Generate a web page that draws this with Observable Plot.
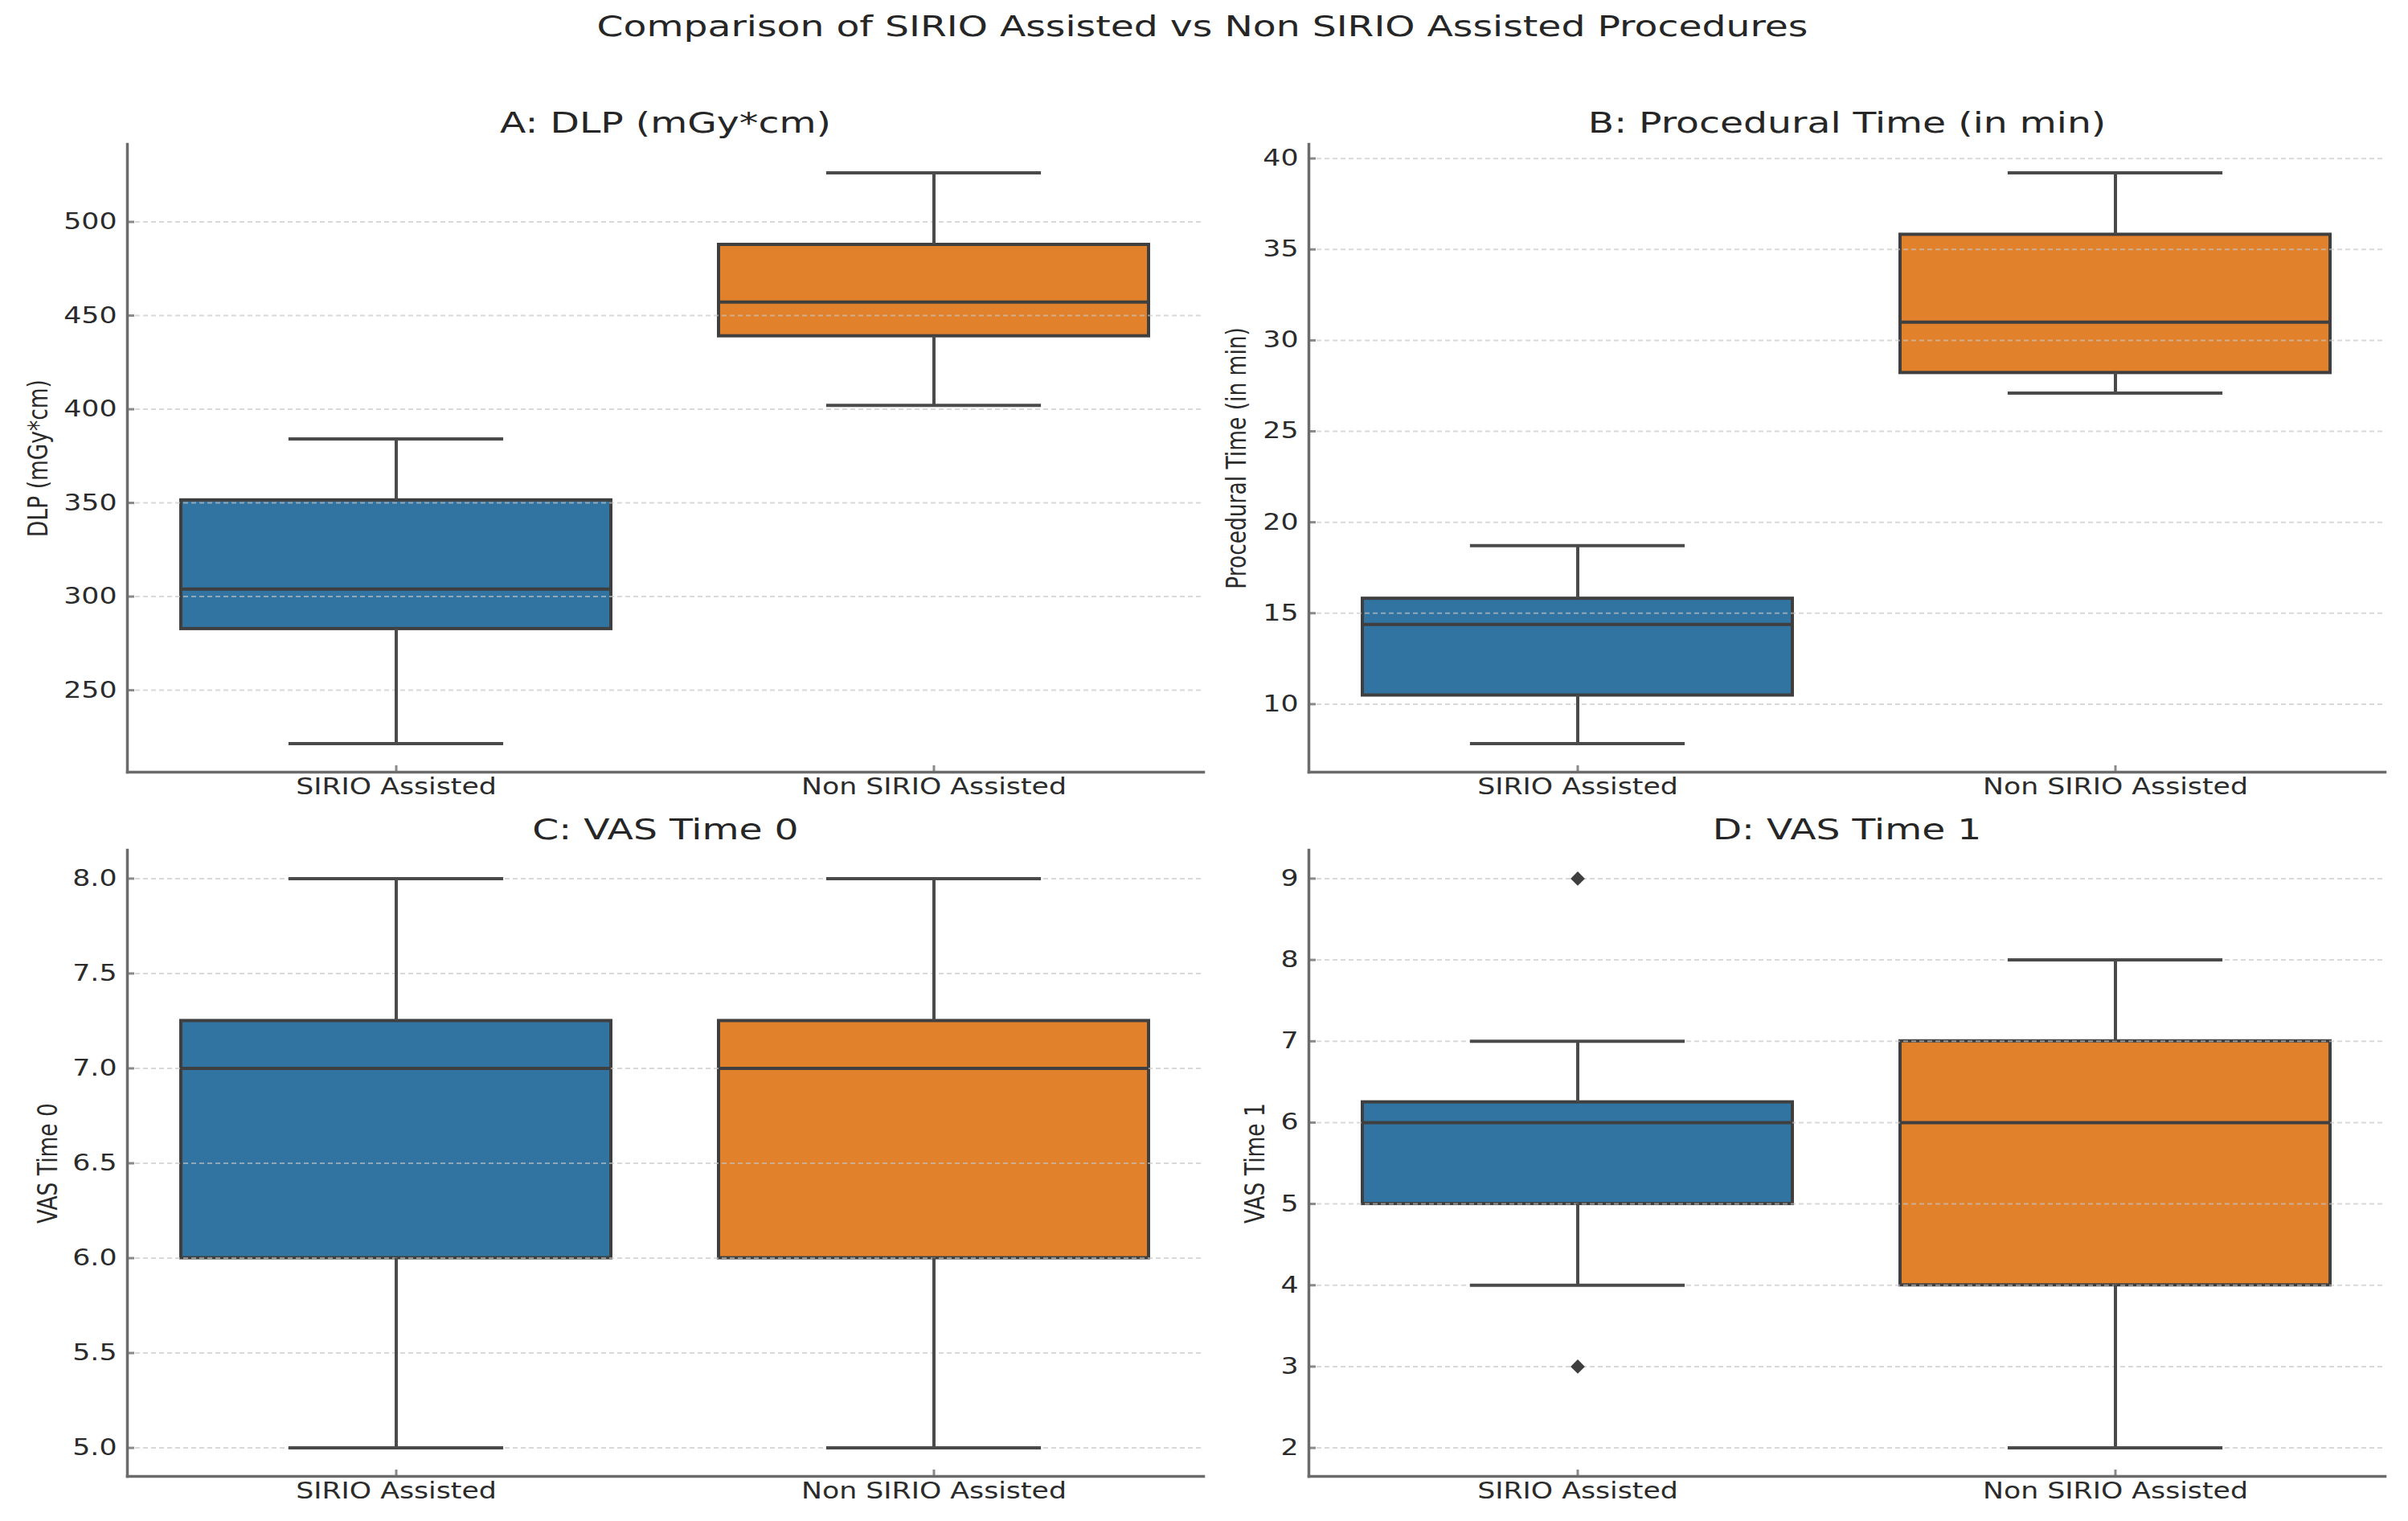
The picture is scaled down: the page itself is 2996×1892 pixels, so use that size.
<!DOCTYPE html>
<html>
<head>
<meta charset="utf-8">
<script src="https://cdn.jsdelivr.net/npm/d3@7"></script>
<script src="https://cdn.jsdelivr.net/npm/@observablehq/plot@0.6"></script>
<style>
  body { margin: 0; background: #fff; }
  #page { position: relative; width: 2996px; height: 1892px; overflow: hidden; font-family: "DejaVu Sans", sans-serif; background: #fff; }
  .ttl { position: absolute; white-space: nowrap; color: #262626; font-size: 35px; line-height: 1; transform-origin: center; z-index: 5; }
  .panel { position: absolute; }
  .panel svg { background: transparent !important; max-width: none !important; overflow: visible; }
</style>
</head>
<body>
<div id="page"></div>
<script>
// ---- data ----
const categories = ["SIRIO Assisted", "Non SIRIO Assisted"];
const boxColors = ["#3274a1", "#e1812c"];

// A: DLP (mGy*cm)
const dlpLow = [221.5, 402.1];
const dlpQ1 = [282.7, 439.0];
const dlpMedian = [304.0, 457.2];
const dlpQ3 = [351.4, 487.8];
const dlpHigh = [384.1, 526.2];
const dlpOutliers = [[], []];
const dlpTicks = [250, 300, 350, 400, 450, 500];

// B: Procedural Time (in min)
const timeLow = [7.83, 27.1];
const timeQ1 = [10.48, 28.21];
const timeMedian = [14.38, 31.0];
const timeQ3 = [15.8, 35.81];
const timeHigh = [18.71, 39.21];
const timeOutliers = [[], []];
const timeTicks = [10, 15, 20, 25, 30, 35, 40];

// C: VAS Time 0
const vas0Low = [5, 5];
const vas0Q1 = [6, 6];
const vas0Median = [7, 7];
const vas0Q3 = [7.25, 7.25];
const vas0High = [8, 8];
const vas0Outliers = [[], []];
const vas0Ticks = [5.0, 5.5, 6.0, 6.5, 7.0, 7.5, 8.0];

// D: VAS Time 1
const vas1Low = [4, 2];
const vas1Q1 = [5, 4];
const vas1Median = [6, 6];
const vas1Q3 = [6.25, 7];
const vas1High = [7, 8];
const vas1Outliers = [[3, 9], []];
const vas1Ticks = [2, 3, 4, 5, 6, 7, 8, 9];

const mainTitle = "Comparison of SIRIO Assisted vs Non SIRIO Assisted Procedures";

// ---- rendering ----
const page = document.getElementById("page");
const TEXT = "#2b2b2b";
const STRETCH_TICK = 1.24;
const STRETCH_TITLE = 1.35;

function addTitle(text, cx, top) {
  const d = document.createElement("div");
  d.className = "ttl";
  d.textContent = text;
  d.style.left = cx + "px";
  d.style.top = top + "px";
  d.style.transform = `translateX(-50%) scaleX(${STRETCH_TITLE})`;
  page.appendChild(d);
}

function panel(o) {
  const rows = categories.map((c, i) => ({
    cat: c, low: o.low[i], q1: o.q1[i], med: o.med[i], q3: o.q3[i], high: o.high[i]
  }));
  const out = o.outliers.flatMap((arr, i) => arr.map(v => ({cat: categories[i], v})));
  const all = rows.flatMap(r => [r.low, r.high]).concat(out.map(d => d.v));
  const lo = Math.min(...all), hi = Math.max(...all), pad = (hi - lo) * 0.05;
  const plotW = o.width - o.mL - o.mR;
  const bandW = plotW / 2 * 0.8;
  const capInset = bandW / 4;
  const lineC = "#4a4a4a", edgeC = "#3f3f3f";

  const chart = Plot.plot({
    width: o.width, height: o.height,
    marginLeft: o.mL, marginRight: o.mR, marginTop: o.mT, marginBottom: o.mB,
    style: {background: "transparent", fontFamily: "DejaVu Sans, sans-serif", fontSize: "28px", color: TEXT, overflow: "visible"},
    x: {type: "band", domain: categories, paddingInner: 0.2, paddingOuter: 0.1, label: null, axis: null},
    y: {domain: [lo - pad, hi + pad], label: null, axis: null},
    color: {domain: categories, range: boxColors},
    marks: [
      Plot.barY(rows, {x: "cat", y1: "q1", y2: "q3", fill: "cat", stroke: edgeC, strokeWidth: 4}),
      Plot.gridY(o.ticks, {stroke: "#c4c4c4", strokeOpacity: 0.65, strokeWidth: 2, strokeDasharray: "6,4"}),
      Plot.ruleX(rows, {x: "cat", y1: "low", y2: "q1", stroke: lineC, strokeWidth: 4}),
      Plot.ruleX(rows, {x: "cat", y1: "q3", y2: "high", stroke: lineC, strokeWidth: 4}),
      Plot.tickY(rows, {x: "cat", y: "low", insetLeft: capInset, insetRight: capInset, stroke: lineC, strokeWidth: 4}),
      Plot.tickY(rows, {x: "cat", y: "high", insetLeft: capInset, insetRight: capInset, stroke: lineC, strokeWidth: 4}),
      Plot.tickY(rows, {x: "cat", y: "med", stroke: edgeC, strokeWidth: 4}),
      Plot.dot(out, {x: "cat", y: "v", symbol: "diamond2", r: 8, fill: edgeC, stroke: "none"}),
      Plot.axisY(o.ticks, {tickSize: 0, tickPadding: 13, tickFormat: o.fmt, fontSize: 28, fill: TEXT, label: null}),
      Plot.axisY(o.ticks, {tickSize: -9, fill: "none", stroke: "#8a8a8a", strokeWidth: 3, label: null}),
      Plot.axisX({tickSize: -8, fill: "none", stroke: "#8a8a8a", strokeWidth: 3, label: null}),
      Plot.axisX({tickSize: 0, tickPadding: 8, fontSize: 28, fill: TEXT, label: null}),
      Plot.frame({anchor: "left", stroke: "#6b6b6b", strokeWidth: 3.5}),
      Plot.frame({anchor: "bottom", stroke: "#6b6b6b", strokeWidth: 3.5}),
      Plot.text([o.label], {frameAnchor: "left", dx: o.labelDx, rotate: -90, textAnchor: "middle", fontSize: 26.5, fill: TEXT})
    ]
  });

  const holder = document.createElement("div");
  holder.className = "panel";
  holder.style.left = o.left + "px";
  holder.style.top = o.top + "px";
  holder.style.width = o.width + "px";
  holder.style.height = o.height + "px";
  holder.appendChild(chart);
  page.appendChild(holder);

  // the reference picture is horizontally stretched: widen horizontal text glyphs
  chart.querySelectorAll('g[aria-label$="tick label"] text').forEach(t => {
    const len = t.getComputedTextLength();
    t.setAttribute("textLength", len * STRETCH_TICK);
    t.setAttribute("lengthAdjust", "spacingAndGlyphs");
  });
  chart.querySelectorAll('g[aria-label="text"] text').forEach(t => {
    const tr = t.getAttribute("transform") || "";
    t.setAttribute("transform", tr + ` scale(1,${STRETCH_TICK})`);
  });
  addTitle(o.title, o.left + o.mL + plotW / 2, o.titleTop);
}

addTitle(mainTitle, 1496, 16);

const row1 = {top: 140, height: 890, mT: 39, mB: 70, titleTop: 136};
const row2 = {top: 1030, height: 862, mT: 27, mB: 56, titleTop: 1015};
const col1 = {left: 0, width: 1500, mL: 158, mR: 3};
const col2 = {left: 1500, width: 1496, mL: 128, mR: 29};

panel({...row1, ...col1, title: "A: DLP (mGy*cm)", label: "DLP (mGy*cm)", labelDx: -110,
  low: dlpLow, q1: dlpQ1, med: dlpMedian, q3: dlpQ3, high: dlpHigh, outliers: dlpOutliers,
  ticks: dlpTicks, fmt: d3.format("d")});
panel({...row1, ...col2, title: "B: Procedural Time (in min)", label: "Procedural Time (in min)", labelDx: -89,
  low: timeLow, q1: timeQ1, med: timeMedian, q3: timeQ3, high: timeHigh, outliers: timeOutliers,
  ticks: timeTicks, fmt: d3.format("d")});
panel({...row2, ...col1, title: "C: VAS Time 0", label: "VAS Time 0", labelDx: -98,
  low: vas0Low, q1: vas0Q1, med: vas0Median, q3: vas0Q3, high: vas0High, outliers: vas0Outliers,
  ticks: vas0Ticks, fmt: d3.format(".1f")});
panel({...row2, ...col2, title: "D: VAS Time 1", label: "VAS Time 1", labelDx: -66,
  low: vas1Low, q1: vas1Q1, med: vas1Median, q3: vas1Q3, high: vas1High, outliers: vas1Outliers,
  ticks: vas1Ticks, fmt: d3.format("d")});
</script>
</body>
</html>
